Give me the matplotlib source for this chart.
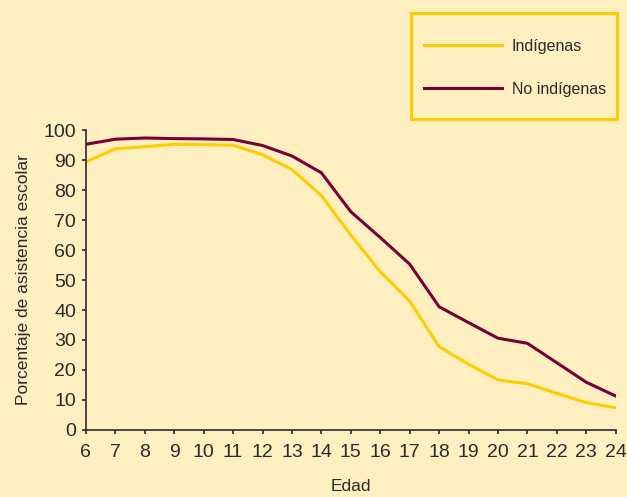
import matplotlib
matplotlib.use("Agg")
import matplotlib.pyplot as plt
from matplotlib.patches import Rectangle

# edades y porcentaje de asistencia escolar
edades = list(range(6, 25))
indigenas = [89.4, 93.8, 94.5, 95.3, 95.2, 95.0, 91.8, 86.9, 78.2, 65.0,
             52.8, 43.0, 27.8, 21.9, 16.7, 15.4, 12.2, 9.1, 7.4]
no_indigenas = [95.3, 97.0, 97.4, 97.2, 97.1, 96.9, 94.9, 91.4, 85.8, 72.8,
                64.2, 55.3, 41.1, 35.8, 30.6, 28.9, 22.4, 15.9, 11.3]
yticks = list(range(0, 101, 10))

bg = '#fdefbf'
amarillo = '#ffcc00'
morado = '#760038'
texto = '#2b2b2b'

plt.rcParams['font.family'] = ['Liberation Sans', 'DejaVu Sans']

fig = plt.figure(figsize=(6.27, 4.97), dpi=100, facecolor=bg)
ax = fig.add_axes([0.137, 0.135, 0.845, 0.603], facecolor=bg)

ax.plot(edades, indigenas, color=amarillo, lw=2.2, label='Indígenas')
ax.plot(edades, no_indigenas, color=morado, lw=2.2, label='No indígenas')

ax.set_xlim(6, 24)
ax.set_ylim(0, 100)
ax.set_xticks(edades)
ax.set_yticks(yticks)
for s in ['top', 'right']:
    ax.spines[s].set_visible(False)
for s in ['left', 'bottom']:
    ax.spines[s].set_color(texto)
    ax.spines[s].set_linewidth(1.2)
ax.tick_params(colors=texto, labelsize=14, length=3, width=1.2)
ax.tick_params(axis='x', pad=7)
ax.tick_params(axis='y', pad=4)
ax.set_xlabel('Edad', fontsize=12.5, color=texto, labelpad=13)
ax.set_ylabel('Porcentaje de asistencia escolar', fontsize=12.5, color=texto, labelpad=9)

# recuadro de la leyenda
fig.patches.append(Rectangle((411 / 627, 1 - 119 / 497), 206 / 627, 106 / 497,
                             transform=fig.transFigure, facecolor='none',
                             edgecolor=amarillo, lw=2.2))
leg = fig.legend(loc='upper left', bbox_to_anchor=(424 / 627, 1 - 39 / 497),
                 fontsize=11.5, handlelength=4.9, handletextpad=0.6,
                 labelspacing=1.75, borderpad=0, borderaxespad=0,
                 frameon=False, labelcolor=texto)

fig.savefig('out.png', dpi=100, facecolor=bg)
